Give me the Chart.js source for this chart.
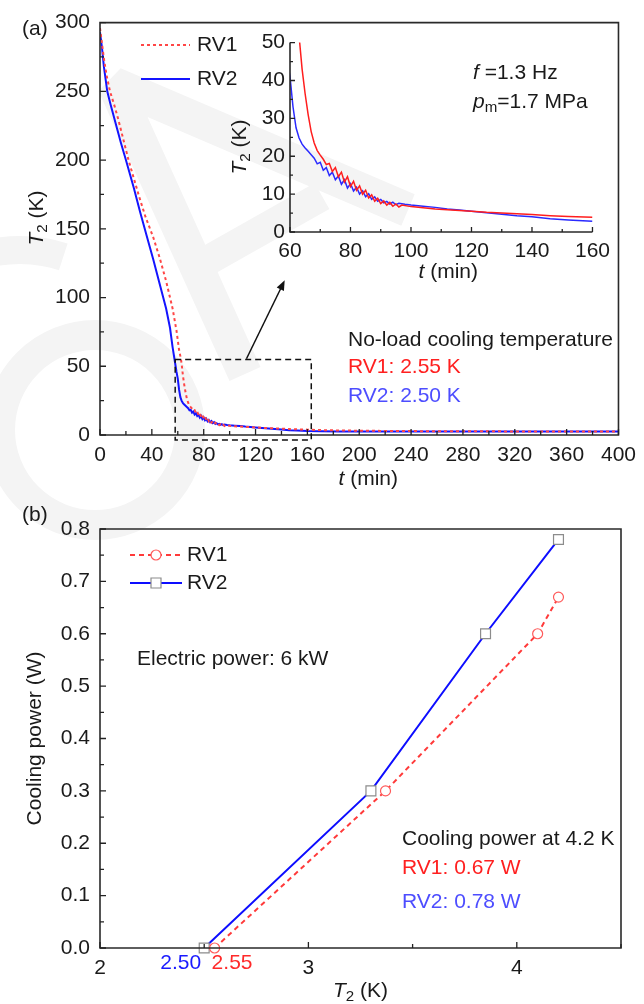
<!DOCTYPE html>
<html>
<head>
<meta charset="utf-8">
<script src="https://cdn.jsdelivr.net/npm/chart.js@4.4.1/dist/chart.umd.min.js"></script>
<style>
  body { margin: 0; background: #fff; }
  #page { position: relative; width: 644px; height: 1004px; overflow: hidden; }
  canvas { position: absolute; }
</style>
</head>
<body>
<div id="page">
  <canvas id="bg" width="644" height="1004" style="left:0;top:0"></canvas>
  <canvas id="chartA" width="644" height="500" style="left:0;top:0"></canvas>
  <canvas id="chartInset" width="392" height="265" style="left:225px;top:25px"></canvas>
  <canvas id="chartB" width="644" height="504" style="left:0;top:500px"></canvas>
</div>
<script>
// ---- data: (a) cool-down curves, T2 (K) vs t (min)
const rv1Time = [0, 1.5, 3, 5, 7.7, 11, 14, 18, 22, 26, 30, 35, 41, 46, 51, 56, 59, 61, 62.5, 63.2,
  64, 65, 66, 67, 68, 69, 70,
  71, 72, 73, 74, 75, 76, 77, 78, 79, 80, 81, 82, 83, 84, 85, 86, 87, 88, 89, 90, 91, 92, 93, 94, 95, 96, 97,
  100, 104, 108, 112, 116, 120, 125, 130, 135, 140, 146, 152, 160, 170, 185, 200, 230, 260, 300, 340, 400];
const rv1Temp = [296, 285, 274, 262, 250, 240, 230, 215, 200, 187, 174, 159, 144, 129, 112, 92, 76, 62, 55, 50,
  43, 36.5, 31, 26.5, 23.5, 21.5, 20.3,
  19.2, 17.8, 18.1, 16.0, 17.0, 14.6, 15.8, 13.2, 14.6, 12.0, 13.4, 11.0, 12.2, 10.0, 11.0, 9.0, 9.8, 8.1, 8.9, 7.5, 8.2, 7.1, 7.8, 6.8, 7.4, 6.6, 7.1,
  6.7, 6.4, 6.1, 5.9, 5.7, 5.5, 5.2, 5.0, 4.8, 4.6, 4.3, 4.1, 3.9, 3.6, 3.3, 3.1, 2.9, 2.75, 2.65, 2.6, 2.55];

const rv2Time = [0, 1.5, 3, 5.6, 8, 12, 16, 20, 26, 31, 36, 41, 46, 51, 54, 56, 58, 59, 60, 61,
  62, 63, 64, 65, 66, 67, 68, 69, 70, 71, 72, 73, 74, 75, 76, 77, 78, 79, 80, 81,
  82, 83, 84, 85, 86, 87, 88, 89, 90, 91, 92, 93, 94, 95, 96, 98, 100, 104, 108, 112,
  116, 120, 125, 130, 135, 140, 146, 152, 160, 170, 185, 200, 230, 260, 300, 340, 400];
const rv2Temp = [293, 282, 268, 250, 241, 227, 213, 200, 180, 162, 145, 128, 110, 92, 78, 64, 52, 46, 41, 33,
  27.5, 24.8, 23.2, 22.2, 21.3, 20.4, 19.5, 18.0, 18.4, 16.3, 17.0, 14.9, 15.8, 13.8, 14.8, 12.6, 13.8, 11.6, 12.8, 10.8,
  11.8, 10.0, 10.9, 9.3, 10.1, 8.6, 9.3, 8.1, 8.6, 7.7, 8.1, 7.4, 7.9, 7.2, 7.6, 7.3, 7.1, 6.8, 6.5, 6.1,
  5.8, 5.5, 5.1, 4.7, 4.3, 4.0, 3.5, 3.2, 2.85, 2.7, 2.6, 2.56, 2.53, 2.52, 2.51, 2.5, 2.5];

// ---- data: (b) cooling power (W) vs T2 (K)
const powerTempRV1 = [2.55, 3.37, 4.10, 4.20];
const powerRV1 = [0, 0.30, 0.60, 0.67];
const powerTempRV2 = [2.50, 3.30, 3.85, 4.20];
const powerRV2 = [0, 0.30, 0.60, 0.78];

// no-load temperatures marked under the (b) axis
const noLoadRV1 = 2.55;
const noLoadRV2 = 2.50;

// zoom box and arrow in (a), in data units
const zoomBoxT = [58, 163];
const zoomBoxK = [-3.6, 55];
const arrowFrom = [113, 55.5];
const arrowTo = [142.5, 112.5];

const FONT = '"Liberation Sans", Arial, Helvetica, sans-serif';
const FS = 21;
const INK = '#1a1a1a';
const RED = '#ff2020';
const BLUE_TXT = '#4d4dff';

Chart.defaults.font.family = FONT;
Chart.defaults.font.size = FS;
Chart.defaults.color = INK;

const pts = (xs, ys) => xs.map((x, i) => ({ x: x, y: ys[i] }));

// text with italic / subscript parts
function richText(ctx, parts, x, y, opt) {
  opt = opt || {};
  const size = opt.size || FS;
  ctx.save();
  ctx.translate(x, y);
  if (opt.rotate) ctx.rotate(opt.rotate);
  ctx.textBaseline = 'middle';
  ctx.textAlign = 'left';
  let w = 0;
  const items = parts.map(p => {
    const fs = p.sub ? size * 0.72 : size;
    const font = (p.italic ? 'italic ' : '') + fs + 'px ' + FONT;
    ctx.font = font;
    const pw = ctx.measureText(p.text).width;
    w += pw;
    return { p: p, font: font, w: pw, dy: p.sub ? size * 0.3 : 0 };
  });
  let cx = opt.align === 'center' ? -w / 2 : 0;
  items.forEach(it => {
    ctx.font = it.font;
    ctx.fillStyle = it.p.color || opt.color || INK;
    ctx.fillText(it.p.text, cx, it.dy);
    cx += it.w;
  });
  ctx.restore();
}

// inward tick marks (major + half-step minor)
function inwardTicks(chart, major, minor) {
  const ctx = chart.ctx, a = chart.chartArea;
  const xs = chart.scales.x, ys = chart.scales.y;
  ctx.save();
  ctx.strokeStyle = '#222';
  ctx.lineWidth = 1.3;
  const xv = xs.ticks.map(t => t.value), yv = ys.ticks.map(t => t.value);
  const half = (vals, max) => {
    const out = [];
    const step = vals[1] - vals[0];
    vals.forEach(v => { if (v + step / 2 <= max + 1e-9) out.push(v + step / 2); });
    return out;
  };
  ctx.beginPath();
  xv.forEach(v => { const px = xs.getPixelForValue(v); ctx.moveTo(px, a.bottom); ctx.lineTo(px, a.bottom - major); });
  half(xv, xs.max).forEach(v => { const px = xs.getPixelForValue(v); ctx.moveTo(px, a.bottom); ctx.lineTo(px, a.bottom - minor); });
  yv.forEach(v => { const py = ys.getPixelForValue(v); ctx.moveTo(a.left, py); ctx.lineTo(a.left + major, py); });
  half(yv, ys.max).forEach(v => { const py = ys.getPixelForValue(v); ctx.moveTo(a.left, py); ctx.lineTo(a.left + minor, py); });
  ctx.stroke();
  ctx.restore();
}

function frame(chart, full) {
  const ctx = chart.ctx, a = chart.chartArea;
  ctx.save();
  ctx.strokeStyle = '#2a2a2a';
  ctx.lineWidth = 1.6;
  ctx.beginPath();
  if (full) {
    ctx.rect(a.left, a.top, a.right - a.left, a.bottom - a.top);
  } else {
    ctx.moveTo(a.left, a.top); ctx.lineTo(a.left, a.bottom); ctx.lineTo(a.right, a.bottom);
  }
  ctx.stroke();
  ctx.restore();
}

function axisCfg(min, max, step, pad, fit, extra) {
  return Object.assign({
    type: 'linear', min: min, max: max,
    ticks: { stepSize: step, padding: pad, autoSkip: false, maxRotation: 0, color: INK, font: { size: FS } },
    grid: { display: false, drawTicks: false },
    border: { display: false },
    afterFit: fit
  }, extra || {});
}

// ---- watermark behind everything
(function () {
  const g = document.getElementById('bg').getContext('2d');
  g.strokeStyle = '#f4f4f4';
  g.lineCap = 'butt';
  g.lineJoin = 'bevel';
  g.lineWidth = 34;
  g.beginPath(); g.moveTo(245, 374); g.lineTo(114, 84); g.lineTo(408, 210); g.stroke();
  g.lineWidth = 30;
  g.beginPath(); g.moveTo(198, 266); g.lineTo(322, 196); g.stroke();
  g.beginPath(); g.arc(95, 430, 95, 0, Math.PI * 2); g.stroke();
  g.lineWidth = 28;
  g.beginPath(); g.arc(20, 390, 140, Math.PI * 190 / 180, Math.PI * 288 / 180); g.stroke();
})();

// ---- (a) main panel
new Chart(document.getElementById('chartA'), {
  type: 'line',
  data: {
    datasets: [
      { label: 'RV1', data: pts(rv1Time, rv1Temp), borderColor: '#ff4646', borderWidth: 2, borderDash: [3, 3], pointRadius: 0 },
      { label: 'RV2', data: pts(rv2Time, rv2Temp), borderColor: '#1414ff', borderWidth: 2, pointRadius: 0 }
    ]
  },
  options: {
    responsive: false, animation: false, events: [],
    layout: { padding: { left: 0, top: 16, right: 23, bottom: 0 } },
    plugins: { legend: { display: false }, tooltip: { enabled: false } },
    scales: {
      x: axisCfg(0, 400, 40, 8, s => { s.height = 65; }),
      y: axisCfg(0, 300, 50, 10, s => { s.width = 100; })
    }
  },
  plugins: [{
    id: 'annotA',
    afterDraw(chart) {
      const ctx = chart.ctx, a = chart.chartArea;
      const xs = chart.scales.x, ys = chart.scales.y;
      frame(chart, true);
      inwardTicks(chart, 6, 4);
      // zoom box
      ctx.save();
      ctx.strokeStyle = '#111';
      ctx.lineWidth = 1.5;
      ctx.setLineDash([6, 4]);
      const bx0 = xs.getPixelForValue(zoomBoxT[0]), bx1 = xs.getPixelForValue(zoomBoxT[1]);
      const by0 = ys.getPixelForValue(zoomBoxK[1]), by1 = ys.getPixelForValue(zoomBoxK[0]);
      ctx.strokeRect(bx0, by0, bx1 - bx0, by1 - by0);
      ctx.setLineDash([]);
      // arrow
      const ax0 = xs.getPixelForValue(arrowFrom[0]), ay0 = ys.getPixelForValue(arrowFrom[1]);
      const ax1 = xs.getPixelForValue(arrowTo[0]), ay1 = ys.getPixelForValue(arrowTo[1]);
      const ang = Math.atan2(ay1 - ay0, ax1 - ax0);
      ctx.lineWidth = 1.5;
      ctx.beginPath(); ctx.moveTo(ax0, ay0); ctx.lineTo(ax1 - 6 * Math.cos(ang), ay1 - 6 * Math.sin(ang)); ctx.stroke();
      ctx.fillStyle = '#111';
      ctx.beginPath();
      ctx.moveTo(ax1, ay1);
      ctx.lineTo(ax1 - 10 * Math.cos(ang) + 4 * Math.sin(ang), ay1 - 10 * Math.sin(ang) - 4 * Math.cos(ang));
      ctx.lineTo(ax1 - 10 * Math.cos(ang) - 4 * Math.sin(ang), ay1 - 10 * Math.sin(ang) + 4 * Math.cos(ang));
      ctx.closePath(); ctx.fill();
      // legend
      const ds = chart.data.datasets;
      [[ds[0], 45], [ds[1], 79]].forEach(([d, y]) => {
        ctx.strokeStyle = d.borderColor;
        ctx.lineWidth = d.borderWidth;
        ctx.setLineDash(d.borderDash || []);
        ctx.beginPath(); ctx.moveTo(141, y); ctx.lineTo(190, y); ctx.stroke();
        ctx.setLineDash([]);
        richText(ctx, [{ text: d.label }], 197, y);
      });
      ctx.restore();
      richText(ctx, [{ text: '(a)' }], 22, 29);
      richText(ctx, [{ text: 'f', italic: true }, { text: ' =1.3 Hz' }], 473, 73);
      richText(ctx, [{ text: 'p', italic: true }, { text: 'm', sub: true }, { text: '=1.7 MPa' }], 473, 102);
      richText(ctx, [{ text: 'No-load cooling temperature' }], 348, 340);
      richText(ctx, [{ text: 'RV1: 2.55 K', color: RED }], 348, 367);
      richText(ctx, [{ text: 'RV2: 2.50 K', color: BLUE_TXT }], 348, 396);
      // axis titles
      richText(ctx, [{ text: 't', italic: true }, { text: ' (min)' }], (a.left + a.right) / 2 + 9, 479, { align: 'center' });
      richText(ctx, [{ text: 'T', italic: true }, { text: '2', sub: true }, { text: ' (K)' }], 37, 218, { align: 'center', rotate: -Math.PI / 2 });
    }
  }]
});

// ---- (a) inset
new Chart(document.getElementById('chartInset'), {
  type: 'line',
  data: {
    datasets: [
      { label: 'RV1', data: pts(rv1Time, rv1Temp), borderColor: '#ff1e1e', borderWidth: 1.5, pointRadius: 0 },
      { label: 'RV2', data: pts(rv2Time, rv2Temp), borderColor: '#2a2aff', borderWidth: 1.5, pointRadius: 0 }
    ]
  },
  options: {
    responsive: false, animation: false, events: [],
    layout: { padding: { left: 0, top: 15, right: 18, bottom: 0 } },
    plugins: { legend: { display: false }, tooltip: { enabled: false } },
    scales: {
      x: axisCfg(60, 160, 20, 7, s => { s.height = 58; }),
      y: axisCfg(0, 50, 10, 5, s => { s.width = 65; })
    }
  },
  plugins: [{
    id: 'annotInset',
    afterDraw(chart) {
      const ctx = chart.ctx, a = chart.chartArea;
      frame(chart, false);
      inwardTicks(chart, 5, 3);
      richText(ctx, [{ text: 't', italic: true }, { text: ' (min)' }], (a.left + a.right) / 2 + 7, 247, { align: 'center' });
      richText(ctx, [{ text: 'T', italic: true }, { text: '2', sub: true }, { text: ' (K)' }], 15, 122, { align: 'center', rotate: -Math.PI / 2 });
    }
  }]
});

// ---- (b) cooling power
new Chart(document.getElementById('chartB'), {
  type: 'line',
  data: {
    datasets: [
      { label: 'RV1', data: pts(powerTempRV1, powerRV1), borderColor: '#ff3a3a', borderWidth: 2, borderDash: [5, 4],
        pointStyle: 'circle', pointRadius: 5, pointBorderColor: '#ff5a5a', pointBackgroundColor: '#fff', pointBorderWidth: 1.2, clip: false },
      { label: 'RV2', data: pts(powerTempRV2, powerRV2), borderColor: '#0d0dff', borderWidth: 2,
        pointStyle: 'rect', pointRadius: 7, pointBorderColor: '#8c8c8c', pointBackgroundColor: '#fff', pointBorderWidth: 1.2, clip: false }
    ]
  },
  options: {
    responsive: false, animation: false, events: [],
    layout: { padding: { left: 0, top: 29, right: 23, bottom: 0 } },
    plugins: { legend: { display: false }, tooltip: { enabled: false } },
    scales: {
      x: axisCfg(2, 4.5, 1, 8, s => { s.height = 56; }),
      y: axisCfg(0, 0.8, 0.1, 10, s => { s.width = 100; })
    }
  },
  plugins: [{
    id: 'annotB',
    beforeInit(chart) {
      chart.options.scales.x.ticks.includeBounds = false;
      chart.options.scales.x.ticks.callback = v => String(v);
      chart.options.scales.y.ticks.callback = v => v.toFixed(1);
    },
    afterDraw(chart) {
      const ctx = chart.ctx, a = chart.chartArea;
      const xs = chart.scales.x;
      frame(chart, true);
      inwardTicks(chart, 6, 4);
      // legend
      const ds = chart.data.datasets;
      ctx.save();
      [[ds[0], 55], [ds[1], 83]].forEach(([d, y]) => {
        ctx.strokeStyle = d.borderColor;
        ctx.lineWidth = d.borderWidth;
        ctx.setLineDash(d.borderDash || []);
        ctx.beginPath(); ctx.moveTo(130, y); ctx.lineTo(182, y); ctx.stroke();
        ctx.setLineDash([]);
        ctx.fillStyle = '#fff';
        ctx.strokeStyle = d.pointBorderColor;
        ctx.lineWidth = d.pointBorderWidth;
        ctx.beginPath();
        if (d.pointStyle === 'circle') ctx.arc(156, y, d.pointRadius, 0, Math.PI * 2);
        else ctx.rect(151, y - 5, 10, 10);
        ctx.fill(); ctx.stroke();
        richText(ctx, [{ text: d.label }], 187, y);
      });
      ctx.restore();
      richText(ctx, [{ text: '(b)' }], 22, 15);
      richText(ctx, [{ text: 'Electric power: 6 kW' }], 137, 159);
      richText(ctx, [{ text: 'Cooling power at 4.2 K' }], 402, 339);
      richText(ctx, [{ text: 'RV1: 0.67 W', color: RED }], 402, 368);
      richText(ctx, [{ text: 'RV2: 0.78 W', color: BLUE_TXT }], 402, 402);
      // no-load temperatures beside the axis
      ctx.save();
      ctx.font = FS + 'px ' + FONT;
      ctx.textBaseline = 'middle';
      ctx.textAlign = 'right';
      ctx.fillStyle = '#1a1aff';
      ctx.fillText(noLoadRV2.toFixed(2), xs.getPixelForValue(noLoadRV2) - 3, a.bottom + 15);
      ctx.textAlign = 'left';
      ctx.fillStyle = '#ff2a2a';
      ctx.fillText(noLoadRV1.toFixed(2), xs.getPixelForValue(noLoadRV1) - 3, a.bottom + 15);
      ctx.restore();
      // axis titles
      richText(ctx, [{ text: 'T', italic: true }, { text: '2', sub: true }, { text: ' (K)' }], (a.left + a.right) / 2, 491, { align: 'center' });
      richText(ctx, [{ text: 'Cooling power (W)' }], 35, (a.top + a.bottom) / 2, { align: 'center', rotate: -Math.PI / 2 });
    }
  }]
});
</script>
</body>
</html>
